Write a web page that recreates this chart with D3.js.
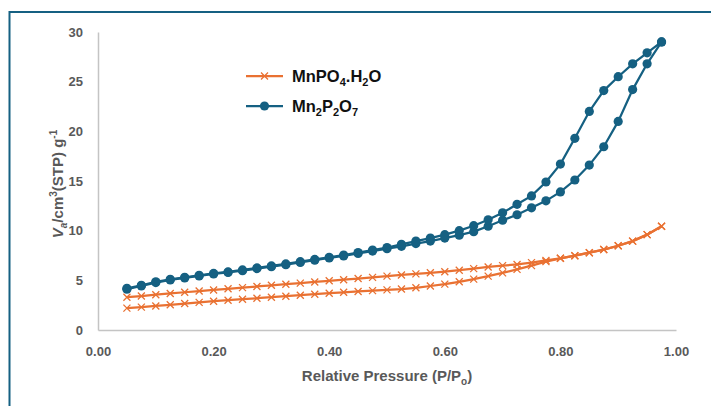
<!DOCTYPE html>
<html>
<head>
<meta charset="utf-8">
<script src="https://cdn.jsdelivr.net/npm/d3@7"></script>
<style>
  body { margin: 0; background: #fff; }
  svg { display: block; font-family: "Liberation Sans", Arial, sans-serif; }
</style>
</head>
<body>
<svg width="711" height="406"></svg>
<script>
// relative pressure points (same grid for every branch)
const pressure = [0.05, 0.075, 0.10, 0.125, 0.15, 0.175, 0.20, 0.225, 0.25, 0.275,
  0.30, 0.325, 0.35, 0.375, 0.40, 0.425, 0.45, 0.475, 0.50, 0.525,
  0.55, 0.575, 0.60, 0.625, 0.65, 0.675, 0.70, 0.725, 0.75, 0.775,
  0.80, 0.825, 0.85, 0.875, 0.90, 0.925, 0.95, 0.975];

// MnPO4.H2O adsorption / desorption
const mnpoAds = [2.20, 2.30, 2.42, 2.54, 2.66, 2.78, 2.90, 3.00, 3.10, 3.20,
  3.30, 3.40, 3.50, 3.60, 3.70, 3.80, 3.88, 3.96, 4.04, 4.12,
  4.25, 4.43, 4.62, 4.85, 5.12, 5.42, 5.75, 6.10, 6.48, 6.88,
  7.22, 7.48, 7.78, 8.10, 8.48, 8.95, 9.60, 10.45];
const mnpoDes = [3.30, 3.42, 3.55, 3.68, 3.80, 3.92, 4.03, 4.15, 4.27, 4.38,
  4.50, 4.61, 4.72, 4.84, 4.95, 5.06, 5.18, 5.30, 5.42, 5.54,
  5.65, 5.76, 5.87, 6.02, 6.18, 6.35, 6.48, 6.60, 6.78, 7.00,
  7.22, 7.48, 7.78, 8.10, 8.48, 8.95, 9.60, 10.45];

// Mn2P2O7 adsorption / desorption
const mn2Ads = [4.10, 4.43, 4.77, 5.04, 5.24, 5.44, 5.64, 5.80, 5.97, 6.18,
  6.38, 6.58, 6.80, 7.03, 7.25, 7.45, 7.70, 7.95, 8.18, 8.42,
  8.70, 8.95, 9.25, 9.55, 9.90, 10.45, 11.05, 11.60, 12.30, 13.00,
  13.90, 15.10, 16.60, 18.45, 21.00, 24.20, 26.80, 29.00];
const mn2Des = [4.20, 4.50, 4.85, 5.10, 5.30, 5.50, 5.70, 5.85, 6.05, 6.25,
  6.45, 6.65, 6.88, 7.10, 7.32, 7.55, 7.80, 8.05, 8.30, 8.62,
  8.95, 9.25, 9.60, 10.00, 10.50, 11.10, 11.80, 12.65, 13.50, 14.90,
  16.70, 19.30, 22.00, 24.10, 25.50, 26.80, 27.90, 29.00];

const xTicks = [0, 0.2, 0.4, 0.6, 0.8, 1.0];
const yTicks = [0, 5, 10, 15, 20, 25, 30];

const orange = "#E97132";
const blue = "#156082";
const grey = "#595959";

const svg = d3.select("svg");

// frame
svg.append("rect")
  .attr("x", 9.5).attr("y", 12)
  .attr("width", 720).attr("height", 420)
  .attr("fill", "#fff")
  .attr("stroke", blue).attr("stroke-width", 2);

const x = d3.scaleLinear().domain([0, 1]).range([98, 676]);
const y = d3.scaleLinear().domain([0, 30]).range([330, 32]);

// axes
const gx = svg.append("g")
  .attr("transform", `translate(0,${y(0)})`)
  .call(d3.axisBottom(x).tickValues(xTicks).tickFormat(d3.format(".2f")).tickSize(0).tickPadding(17));
const gy = svg.append("g")
  .attr("transform", `translate(${x(0)},0)`)
  .call(d3.axisLeft(y).tickValues(yTicks).tickSize(0).tickPadding(15));

[gx, gy].forEach(g => {
  g.select(".domain").attr("stroke", "#c4c4c4").attr("stroke-width", 1.5);
  g.selectAll("text")
    .attr("fill", grey)
    .attr("font-size", 13)
    .attr("font-weight", "bold")
    .attr("font-family", "Liberation Sans, Arial, sans-serif");
});

// axis titles
svg.append("text")
  .attr("x", 387).attr("y", 381)
  .attr("text-anchor", "middle")
  .attr("fill", grey).attr("font-size", 15).attr("font-weight", "bold")
  .call(t => {
    t.append("tspan").text("Relative Pressure (P/P");
    t.append("tspan").attr("dy", 4).attr("font-size", 10).text("o");
    t.append("tspan").attr("dy", -4).text(")");
  });

svg.append("text")
  .attr("transform", "translate(63,184) rotate(-90)")
  .attr("text-anchor", "middle")
  .attr("fill", grey).attr("font-size", 15).attr("font-weight", "bold")
  .call(t => {
    t.append("tspan").attr("font-style", "italic").text("V");
    t.append("tspan").attr("font-style", "italic").attr("dy", 4).attr("font-size", 10).text("a");
    t.append("tspan").attr("dy", -4).text("/cm");
    t.append("tspan").attr("dy", -6).attr("font-size", 10).text("3");
    t.append("tspan").attr("dy", 6).text("(STP) g");
    t.append("tspan").attr("dy", -6).attr("font-size", 10).text("-1");
  });

const line = d3.line()
  .x(d => x(d[0]))
  .y(d => y(d[1]));

function crossPath(s) {
  return `M${-s},${-s}L${s},${s}M${-s},${s}L${s},${-s}`;
}

function drawOrange(vals) {
  const pts = pressure.map((p, i) => [p, vals[i]]);
  svg.append("path").datum(pts)
    .attr("d", line).attr("fill", "none")
    .attr("stroke", orange).attr("stroke-width", 2.25);
  svg.append("g").selectAll("path").data(pts).join("path")
    .attr("transform", d => `translate(${x(d[0])},${y(d[1])})`)
    .attr("d", crossPath(3.5))
    .attr("stroke", orange).attr("stroke-width", 1.3).attr("fill", "none");
}

function drawBlue(vals) {
  const pts = pressure.map((p, i) => [p, vals[i]]);
  svg.append("path").datum(pts)
    .attr("d", line).attr("fill", "none")
    .attr("stroke", blue).attr("stroke-width", 2.25);
  svg.append("g").selectAll("circle").data(pts).join("circle")
    .attr("cx", d => x(d[0])).attr("cy", d => y(d[1]))
    .attr("r", 4.6).attr("fill", blue);
}

drawOrange(mnpoAds);
drawOrange(mnpoDes);
drawBlue(mn2Ads);
drawBlue(mn2Des);

// legend
const lg = svg.append("g");
lg.append("line").attr("x1", 246).attr("x2", 283).attr("y1", 76).attr("y2", 76)
  .attr("stroke", orange).attr("stroke-width", 2.25);
lg.append("path").attr("transform", "translate(264.5,76)").attr("d", crossPath(3.5))
  .attr("stroke", orange).attr("stroke-width", 1.3);
lg.append("line").attr("x1", 246).attr("x2", 283).attr("y1", 106).attr("y2", 106)
  .attr("stroke", blue).attr("stroke-width", 2.25);
lg.append("circle").attr("cx", 264.5).attr("cy", 106).attr("r", 4.6).attr("fill", blue);

lg.append("text").attr("x", 292).attr("y", 82)
  .attr("font-size", 16.5).attr("font-weight", "bold").attr("fill", "#111")
  .call(t => {
    t.append("tspan").text("MnPO");
    t.append("tspan").attr("dy", 4).attr("font-size", 11).text("4");
    t.append("tspan").attr("dy", -4).text(".H");
    t.append("tspan").attr("dy", 4).attr("font-size", 11).text("2");
    t.append("tspan").attr("dy", -4).text("O");
  });
lg.append("text").attr("x", 292).attr("y", 112)
  .attr("font-size", 16.5).attr("font-weight", "bold").attr("fill", "#111")
  .call(t => {
    t.append("tspan").text("Mn");
    t.append("tspan").attr("dy", 4).attr("font-size", 11).text("2");
    t.append("tspan").attr("dy", -4).text("P");
    t.append("tspan").attr("dy", 4).attr("font-size", 11).text("2");
    t.append("tspan").attr("dy", -4).text("O");
    t.append("tspan").attr("dy", 4).attr("font-size", 11).text("7");
  });
</script>
</body>
</html>
